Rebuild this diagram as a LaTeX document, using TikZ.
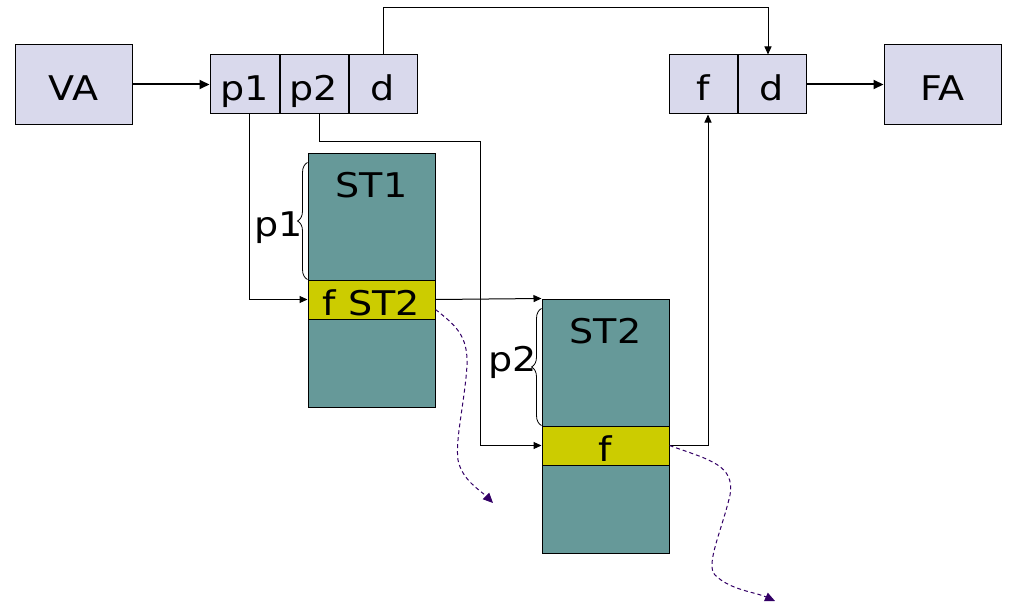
\documentclass[tikz,border=0pt]{standalone}
\usepackage{fontspec}
\newfontfamily\diagfont{DejaVu Sans}[FakeStretch=1.12]
\usetikzlibrary
  {
    arrows.meta,                % triangle heads
    positioning,                % place nodes relative to other nodes
    calc,
    decorations.pathreplacing,  % the braces
  }

\definecolor{cellfill}{RGB}{217,217,236}
\definecolor{pagefill}{RGB}{102,153,153}
\definecolor{entryfill}{RGB}{204,204,0}
\definecolor{lostline}{RGB}{51,0,102}

\tikzset{
  boxed/.style={draw, line width=1pt, text height=32pt, text depth=0pt},
  addr/.style={boxed, fill=cellfill, minimum width=117pt, minimum height=79pt},
  cell/.style={boxed, fill=cellfill, minimum width=68pt, minimum height=59pt},
  pagetable/.style={boxed, fill=pagefill, minimum width=127pt, minimum height=254pt},
  entry/.style={boxed, fill=entryfill, minimum width=127pt, minimum height=39pt},
  tag/.style={text height=32pt, text depth=0pt},
  bigarrow/.style={line width=2pt, -{Triangle[length=10pt,width=9pt]}},
  link/.style={line width=1pt},
  smallarrow/.style={link, -{Triangle[length=8pt,width=7pt]}},
  brc/.style={line width=0.8pt, decorate, decoration={brace, amplitude=10pt}},
  lost/.style={line width=1pt, lostline, dash pattern=on 4pt off 3pt,
    -{Triangle[length=10pt,width=9pt]}},
}

\begin{document}
\begin{tikzpicture}[x=1pt, y=-1pt, inner sep=0, font=\diagfont\fontsize{34}{40}\selectfont]
    \useasboundingbox (0,0) rectangle (1016,615);

    % virtual address, directory entry, frame
    \node (va) [addr] at (73.5,84.5) {VA};
    \node (p1) [cell, minimum width=69pt] at (244.5,84.5) {p1};
    \node (p2) [cell, right=0pt of p1] {p2};
    \node (d)  [cell, right=0pt of p2] {d};
    \node (ff) [cell] at (703,84.5) {f};
    \node (fd) [cell, right=0pt of ff] {d};
    \node (fa) [addr] at (942.5,84.5) {FA};

    % the two tables
    \node (st1)  [pagetable] at (371.5,280) {};
    \node (st1f) [entry] at (371.5,299.5) {f ST2};
    \node (st1name) [tag, below=13pt of st1.north] {ST1};
    \node (st2)  [pagetable] at (605.5,426) {};
    \node (st2f) [entry] at (605.5,445.5) {f};
    \node (st2name) [tag, below=13pt of st2.north] {ST2};

    % offsets into the tables
    \draw[brc] (st1.west |- st1f.north) -- ($(st1.north west)+(0,10)$);
    \node (p1off) [tag] at (279,220) {p1};
    \draw[brc] (st2.west |- st2f.north) -- ($(st2.north west)+(0,10)$);
    \node (p2off) [tag] at (513,355) {p2};

    % connectors
    \draw[bigarrow] (va) -- (p1);
    \draw[bigarrow] (fd) -- (fa);
    \draw[smallarrow] (d.north) -- ++(0,-47) -| ([xshift=-4pt]fd.north);
    \draw[smallarrow] ([xshift=5pt]p1.south) |- (st1f.west);
    \coordinate (p2turn) at (480,141);
    \draw[smallarrow] ([xshift=5pt]p2.south) |- (p2turn) |- (st2f.west);
    \draw[smallarrow] (st1f.east) -- (st2.north west);
    \draw[smallarrow] (st2f.east) -| ([xshift=5pt]ff.south);

    % other entries lead elsewhere
    \coordinate (lost1) at (493,503);
    \coordinate (lost2) at (775,601);
    \draw[lost] ([yshift=-10pt]st1f.east)
        .. controls (455,325) and (468,335) .. (467,365)
        .. controls (465,400) and (455,440) .. (458,460)
        .. controls (462,480) and (480,490) .. (lost1);
    \draw[lost] (st2f.east)
        .. controls (710,460) and (735,465) .. (730,495)
        .. controls (722,530) and (705,565) .. (715,575)
        .. controls (730,590) and (755,592) .. (lost2);
\end{tikzpicture}
\end{document}
